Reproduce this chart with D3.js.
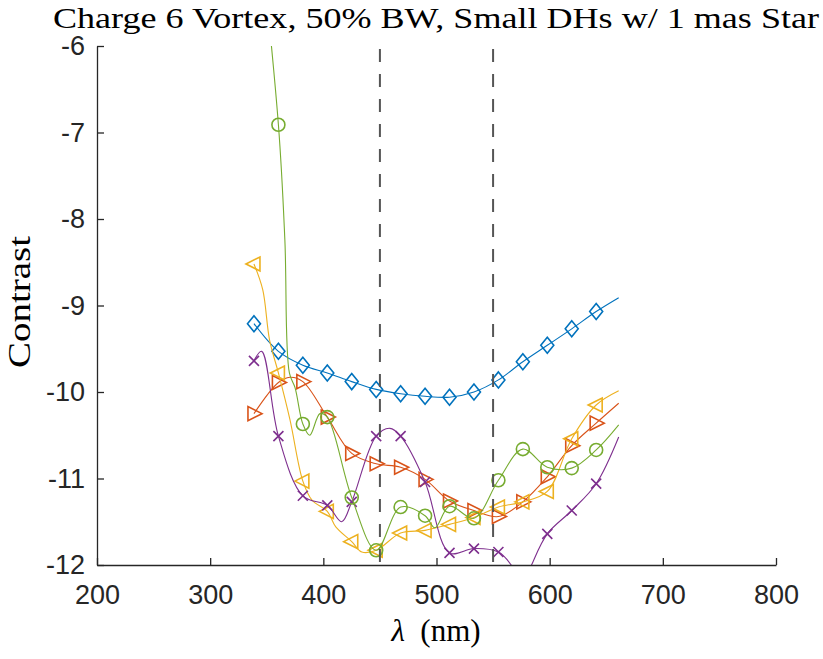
<!DOCTYPE html>
<html>
<head>
<meta charset="utf-8">
<script src="https://cdn.jsdelivr.net/npm/d3@7"></script>
<style>
  body { margin: 0; background: #fff; }
  .tick text { font-family: "Liberation Sans", Arial, sans-serif; fill: #262626; }
  .latex { font-family: "Liberation Serif", "Times New Roman", serif; fill: #000; }
</style>
</head>
<body>
<div id="chart"></div>
<script>
// marker wavelengths (nm)
var lam = [338.7, 360.3, 381.9, 403.5, 425.1, 446.7, 468.3, 489.9, 511.5, 533.1, 554.7, 576.3, 597.9, 619.5, 641.1];

// contrast at the markers
var blueVals   = [-9.21, -9.53, -9.69, -9.78, -9.88, -9.97, -10.02, -10.05, -10.06, -10.00, -9.86, -9.65, -9.46, -9.27, -9.07];
var redVals    = [-10.25, -9.89, -9.88, -10.29, -10.71, -10.83, -10.87, -11.01, -11.26, -11.37, -11.44, -11.27, -10.98, -10.62, -10.36];
var yellowVals = [-8.52, -9.78, -11.03, -11.38, -11.73, -11.83, -11.63, -11.60, -11.53, -11.45, -11.33, -11.27, -11.15, -10.54, -10.15];
var purpleVals = [-9.64, -10.51, -11.20, -11.31, -11.27, -10.51, -10.51, -11.04, -11.86, -11.81, -11.85, -12.25, -11.64, -11.37, -11.06];
var greenVals  = [-4.0, -6.91, -10.37, -10.29, -11.22, -11.83, -11.33, -11.43, -11.32, -11.46, -11.02, -10.66, -10.87, -10.88, -10.67];

// extra points read along the curves between markers [lambda, contrast]
var blueExtra   = [[661, -8.91]];
var redExtra    = [[370.5, -9.83], [661, -10.13]];
var yellowExtra = [[346.5, -8.82], [352.5, -9.40], [370.5, -10.32], [390, -11.25], [411, -11.56], [434, -11.85], [661, -9.985]];
var purpleExtra = [[345.5, -9.53], [416.2, -11.50], [458.8, -10.42], [566, -12.0], [584, -12.0], [661, -10.52]];
var greenExtra  = [[366, -8.24], [370, -9.78], [375, -9.95], [388, -10.50], [397, -10.25], [498.6, -11.57], [661, -10.38]];

var xTicks = [200, 300, 400, 500, 600, 700, 800];
var yTicks = [-12, -11, -10, -9, -8, -7, -6];
var bandEdges = [450, 550];

var svgWidth = 823;
var svgHeight = 659;

var svg = d3.select("#chart")
    .append("svg")
    .attr("width", svgWidth)
    .attr("height", svgHeight)
    .style("background", "#fff");

var x = d3.scaleLinear().domain([200, 800]).range([97, 776]);
var y = d3.scaleLinear().domain([-12, -6]).range([565, 46]);

// clip to the axes box like matlab does
svg.append("clipPath").attr("id", "plotClip")
    .append("rect")
    .attr("x", x(200)).attr("y", y(-6))
    .attr("width", x(800) - x(200)).attr("height", y(-12) - y(-6));

var plot = svg.append("g").attr("clip-path", "url(#plotClip)");

var line = d3.line()
    .x(d => x(d[0]))
    .y(d => y(d[1]))
    .curve(d3.curveCatmullRom.alpha(0.5));

function seriesPoints(vals, extra) {
    var pts = lam.map((l, i) => [l, vals[i]]).concat(extra);
    pts.sort((a, b) => a[0] - b[0]);
    return pts;
}

var series = [
    { vals: blueVals,   extra: blueExtra,   color: "#0072BD", marker: "diamond" },
    { vals: redVals,    extra: redExtra,    color: "#D95319", marker: "triRight" },
    { vals: yellowVals, extra: yellowExtra, color: "#EDB120", marker: "triLeft" },
    { vals: purpleVals, extra: purpleExtra, color: "#7E2F8E", marker: "cross" },
    { vals: greenVals,  extra: greenExtra,  color: "#77AC30", marker: "circle" }
];

function markerPath(type) {
    if (type === "diamond") return "M0,-8L6.5,0L0,8L-6.5,0Z";
    if (type === "triRight") return "M8,0L-6,-7L-6,7Z";
    if (type === "triLeft") return "M-8,0L6,-7L6,7Z";
    if (type === "cross") return "M-5,-5L5,5M-5,5L5,-5";
    return null;
}

series.forEach(function(s) {
    plot.append("path")
        .datum(seriesPoints(s.vals, s.extra))
        .attr("fill", "none")
        .attr("stroke", s.color)
        .attr("stroke-width", 1.1)
        .attr("d", line);

    var pts = lam.map((l, i) => [l, s.vals[i]]);
    if (s.marker === "circle") {
        plot.selectAll(null)
            .data(pts)
            .enter()
            .append("circle")
            .attr("cx", d => x(d[0]))
            .attr("cy", d => y(d[1]))
            .attr("r", 6.5)
            .attr("fill", "none")
            .attr("stroke", s.color)
            .attr("stroke-width", 1.6);
    } else {
        plot.selectAll(null)
            .data(pts)
            .enter()
            .append("path")
            .attr("transform", d => `translate(${x(d[0])},${y(d[1])})`)
            .attr("d", markerPath(s.marker))
            .attr("fill", "none")
            .attr("stroke", s.color)
            .attr("stroke-width", 1.6);
    }
});

// band edges
svg.selectAll(".band")
    .data(bandEdges)
    .enter()
    .append("line")
    .attr("x1", d => x(d)).attr("x2", d => x(d))
    .attr("y1", y(-6) + 3).attr("y2", y(-12))
    .attr("stroke", "#555")
    .attr("stroke-width", 2)
    .attr("stroke-dasharray", "13,12");

// axes
var xAxis = svg.append("g")
    .attr("transform", `translate(0, ${y(-12)})`)
    .call(d3.axisBottom(x).tickValues(xTicks).tickFormat(d => String(d))
        .tickSizeInner(-7).tickSizeOuter(0).tickPadding(20));

var yAxis = svg.append("g")
    .attr("transform", `translate(${x(200)}, 0)`)
    .call(d3.axisLeft(y).tickValues(yTicks).tickFormat(d => String(d))
        .tickSizeInner(-7).tickSizeOuter(0).tickPadding(12));

[xAxis, yAxis].forEach(function(ax) {
    ax.select(".domain").attr("stroke", "#262626").attr("stroke-width", 1.3);
    ax.selectAll(".tick line").attr("stroke", "#262626").attr("stroke-width", 1.3);
    ax.selectAll(".tick text").style("font-size", "27px");
});

// labels (latex look: wider serif, so stretch to the reference widths)
svg.append("text")
    .attr("class", "latex")
    .attr("x", 436)
    .attr("y", 28)
    .attr("text-anchor", "middle")
    .attr("textLength", 766)
    .attr("lengthAdjust", "spacingAndGlyphs")
    .style("font-size", "30px")
    .text("Charge 6 Vortex, 50% BW, Small DHs w/ 1 mas Star");

var xl = svg.append("text")
    .attr("class", "latex")
    .attr("x", 436)
    .attr("y", 641)
    .attr("text-anchor", "middle")
    .style("font-size", "31px");
xl.append("tspan").style("font-style", "italic").text("λ");
xl.append("tspan").text("\u2002(nm)");

svg.append("text")
    .attr("class", "latex")
    .attr("transform", "translate(30, 302) rotate(-90)")
    .attr("text-anchor", "middle")
    .attr("textLength", 132)
    .attr("lengthAdjust", "spacingAndGlyphs")
    .style("font-size", "32px")
    .text("Contrast");
</script>
</body>
</html>
